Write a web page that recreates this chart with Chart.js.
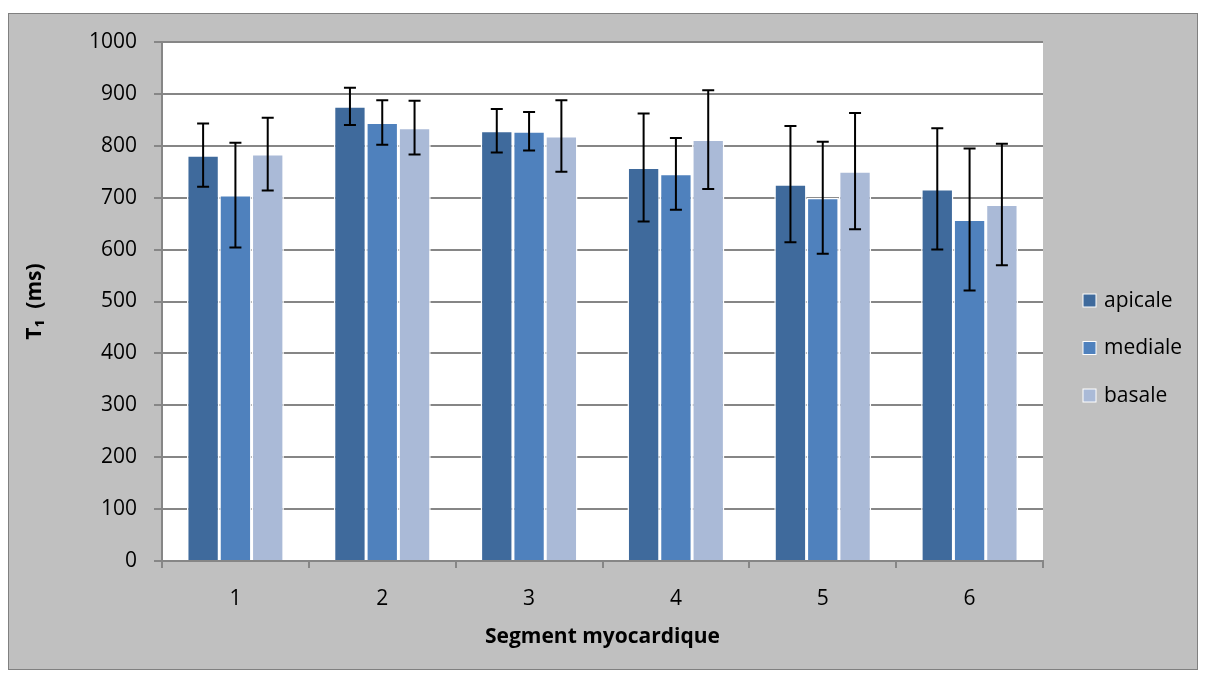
<!DOCTYPE html>
<html lang="fr">
<head>
    <meta charset="UTF-8">
    <title>T1 par segment myocardique</title>
    <script src="https://cdn.jsdelivr.net/npm/chart.js"></script>
    <style>
        body { margin: 0; background: #fff; }
        .frame {
            position: absolute;
            left: 8px; top: 13px;
            width: 1188px; height: 655px;
            background: #c0c0c0;
            border: 1px solid #808080;
        }
    </style>
</head>
<body>
    <div class="frame">
        <canvas id="t1Chart" width="1188" height="655"></canvas>
    </div>

    <script>
        // Données
        const segments = ['1', '2', '3', '4', '5', '6'];
        const apicale = [782, 876, 829, 758, 726, 717];
        const mediale = [705, 845, 828, 746, 700, 658];
        const basale = [784, 835, 819, 812, 751, 687];
        const apicaleErr = [61, 36, 42, 104, 112, 117];
        const medialeErr = [101, 43, 37, 69, 108, 137];
        const basaleErr = [70, 52, 69, 95, 112, 117];

        const colors = ['#3f6a9c', '#4f81bd', '#aabad7'];
        const font = '"Open Sans", Lato, sans-serif';

        // fond blanc de la zone de tracé
        const plotBackground = {
            id: 'plotBackground',
            beforeDraw(chart) {
                const { ctx, chartArea: a } = chart;
                ctx.save();
                ctx.fillStyle = '#fff';
                ctx.fillRect(a.left, a.top, a.right - a.left, a.bottom - a.top);
                ctx.restore();
            }
        };

        // barres d'erreur
        const errorBars = {
            id: 'errorBars',
            afterDatasetsDraw(chart) {
                const { ctx } = chart;
                const y = chart.scales.y;
                ctx.save();
                ctx.strokeStyle = '#000';
                ctx.lineWidth = 2;
                chart.data.datasets.forEach((ds, i) => {
                    chart.getDatasetMeta(i).data.forEach((bar, j) => {
                        const v = ds.data[j], e = ds.errors[j];
                        const top = y.getPixelForValue(v + e);
                        const bot = y.getPixelForValue(v - e);
                        ctx.beginPath();
                        ctx.moveTo(bar.x, top); ctx.lineTo(bar.x, bot);
                        ctx.moveTo(bar.x - 6, top); ctx.lineTo(bar.x + 6, top);
                        ctx.moveTo(bar.x - 6, bot); ctx.lineTo(bar.x + 6, bot);
                        ctx.stroke();
                    });
                });
                ctx.restore();
            }
        };

        // légende à droite
        const sideLegend = {
            id: 'sideLegend',
            afterDraw(chart) {
                const { ctx, chartArea: a } = chart;
                ctx.save();
                ctx.font = '21px ' + font;
                ctx.textBaseline = 'middle';
                chart.data.datasets.forEach((ds, i) => {
                    const x = a.right + 40;
                    const y = 287 + i * 47.5;
                    ctx.fillStyle = ds.backgroundColor;
                    ctx.fillRect(x, y - 7, 13, 13);
                    ctx.strokeStyle = '#fff';
                    ctx.lineWidth = 1;
                    ctx.strokeRect(x, y - 7, 13, 13);
                    ctx.fillStyle = '#000';
                    ctx.fillText(ds.label, x + 21, y);
                });
                ctx.restore();
            }
        };

        const makeSet = (label, data, errors, i) => ({
            label: label,
            data: data,
            errors: errors,
            backgroundColor: colors[i],
            borderColor: '#fff',
            borderWidth: 1.5,
            categoryPercentage: 0.66,
            barPercentage: 1
        });

        new Chart(document.getElementById('t1Chart'), {
            type: 'bar',
            data: {
                labels: segments,
                datasets: [
                    makeSet('apicale', apicale, apicaleErr, 0),
                    makeSet('mediale', mediale, medialeErr, 1),
                    makeSet('basale', basale, basaleErr, 2)
                ]
            },
            options: {
                responsive: false,
                animation: false,
                layout: { padding: { top: 28, right: 154, bottom: 15, left: 0 } },
                plugins: {
                    legend: { display: false },
                    tooltip: { enabled: false }
                },
                scales: {
                    x: {
                        grid: { drawOnChartArea: false, tickLength: 7, color: '#868686', lineWidth: 2 },
                        border: { color: '#868686', width: 2 },
                        ticks: { color: '#000', font: { family: font, size: 21 }, padding: 18 },
                        title: {
                            display: true, text: 'Segment myocardique', color: '#000',
                            font: { family: font, size: 21, weight: 'bold' }, padding: { top: 0 }
                        },
                        afterFit(scale) { scale.height = 93; }
                    },
                    y: {
                        min: 0, max: 1000,
                        ticks: {
                            stepSize: 100, color: '#000', font: { family: font, size: 21 }, padding: 17,
                            callback: v => String(v)
                        },
                        grid: { color: '#868686', lineWidth: 2, tickLength: 8 },
                        border: { color: '#868686', width: 2 },
                        title: {
                            display: true, text: 'T\u2081  (ms)', color: '#000',
                            font: { family: font, size: 21, weight: 'bold' }, padding: { top: 13 }
                        },
                        afterFit(scale) {
                            scale.width = 153;
                            scale.paddingTop = 0;
                            scale.paddingBottom = 0;
                        }
                    }
                }
            },
            plugins: [plotBackground, errorBars, sideLegend]
        });
    </script>
</body>
</html>
